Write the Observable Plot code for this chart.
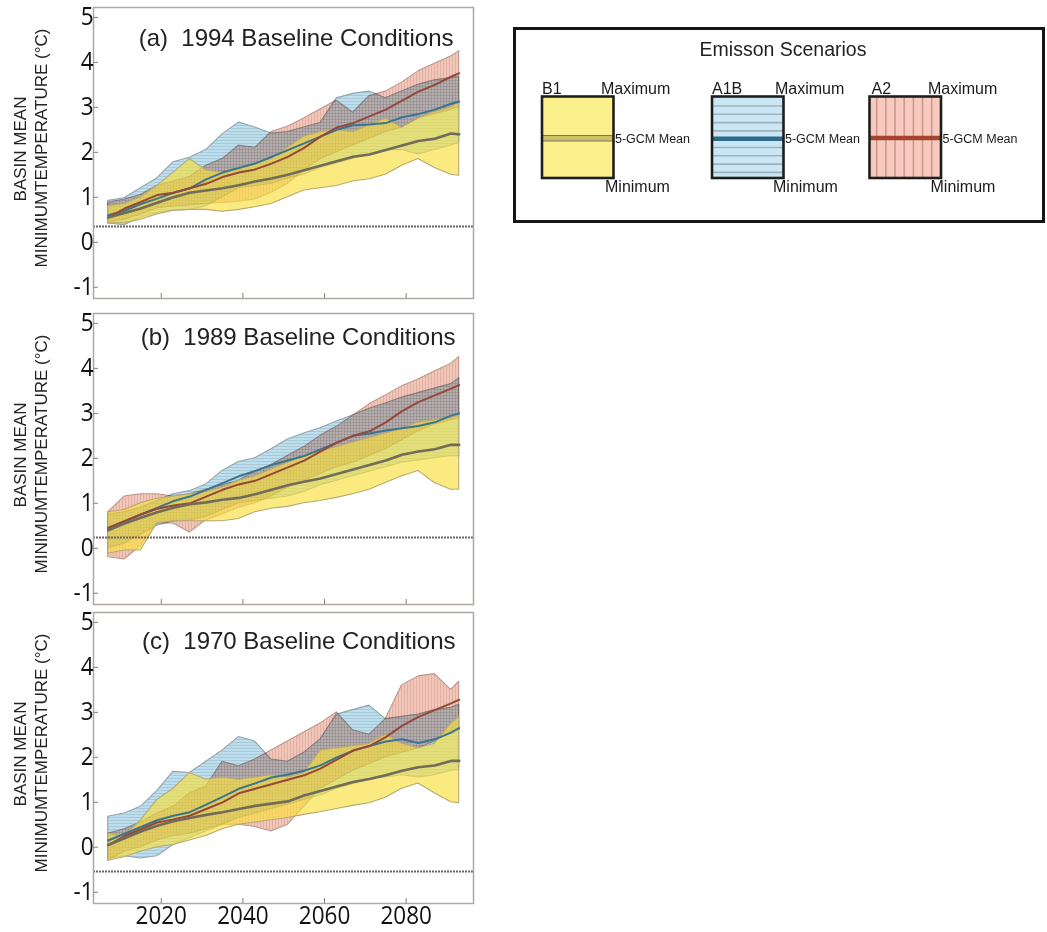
<!DOCTYPE html>
<html><head><meta charset="utf-8">
<script src="https://cdn.jsdelivr.net/npm/d3@7"></script>
<script src="https://cdn.jsdelivr.net/npm/@observablehq/plot@0.6"></script>
<style>
body{margin:0;background:#fff;}
#wrap{position:relative;width:1047px;height:932px;overflow:hidden;background:#fff;}
</style></head><body>
<svg width="0" height="0" style="position:absolute;left:0;top:0">
<defs>
<pattern id="pA1B" patternUnits="userSpaceOnUse" width="6" height="3">
<rect width="6" height="3" fill="#bcdff0"/><rect y="2" width="6" height="1" fill="#aac8d6"/>
</pattern>
<pattern id="pA2" patternUnits="userSpaceOnUse" width="3" height="6">
<rect width="3" height="6" fill="#f3c6ba"/><rect x="2" width="1" height="6" fill="#e0b0a4"/>
</pattern>
</defs></svg>
<div id="wrap"></div>
<script>
// ---------- data ----------
const years = [2007, 2011, 2015, 2019, 2023, 2027, 2031, 2035, 2039, 2043, 2047, 2051, 2055, 2059, 2063, 2067, 2071, 2075, 2079, 2083, 2087, 2091, 2093];
const xTicks = [2020, 2040, 2060, 2080];
const yTicks = [-1, 0, 1, 2, 3, 4, 5];

// (a) 1994 baseline
const baseA = 0.35;
const aB1min   = [0.42, 0.42, 0.5, 0.62, 0.7, 0.72, 0.72, 0.68, 0.72, 0.78, 0.85, 1.0, 1.15, 1.2, 1.25, 1.35, 1.4, 1.5, 1.7, 1.85, 1.65, 1.5, 1.48];
const aB1mean  = [0.55, 0.65, 0.75, 0.88, 1.0, 1.1, 1.15, 1.2, 1.27, 1.35, 1.42, 1.5, 1.6, 1.7, 1.8, 1.9, 1.95, 2.05, 2.15, 2.25, 2.3, 2.42, 2.4];
const aB1max   = [0.8, 0.85, 1.0, 1.25, 1.55, 1.85, 1.6, 1.55, 1.65, 1.75, 1.85, 2.1, 2.35, 2.45, 2.5, 2.45, 2.6, 2.75, 2.55, 2.75, 2.9, 3.0, 3.1];
const aA1Bmin  = [0.42, 0.38, 0.55, 0.65, 0.7, 0.72, 0.8, 1.0, 1.2, 1.25, 1.3, 1.42, 1.5, 1.65, 1.75, 1.85, 1.95, 2.05, 2.05, 1.95, 2.05, 2.15, 2.2];
const aA1Bmean = [0.6, 0.7, 0.85, 0.97, 1.1, 1.2, 1.4, 1.55, 1.65, 1.75, 1.9, 2.05, 2.2, 2.35, 2.5, 2.6, 2.62, 2.65, 2.78, 2.85, 2.95, 3.08, 3.13];
const aA1Bmax  = [0.92, 0.98, 1.2, 1.42, 1.78, 1.88, 2.05, 2.4, 2.66, 2.55, 2.42, 2.45, 2.55, 2.65, 3.2, 3.3, 3.35, 3.2, 3.35, 3.5, 3.6, 3.65, 3.68];
const aA2min   = [0.45, 0.5, 0.62, 0.75, 0.8, 0.82, 0.85, 0.88, 0.9, 0.95, 1.1, 1.3, 1.6, 1.85, 2.0, 2.15, 2.3, 2.45, 2.55, 2.75, 2.85, 2.95, 3.0];
const aA2mean  = [0.55, 0.75, 0.9, 1.05, 1.1, 1.2, 1.3, 1.45, 1.55, 1.62, 1.75, 1.9, 2.1, 2.35, 2.55, 2.65, 2.8, 2.95, 3.15, 3.35, 3.5, 3.68, 3.76];
const aA2max   = [0.88, 0.95, 1.05, 1.25, 1.35, 1.45, 1.7, 1.85, 2.15, 2.1, 2.45, 2.57, 2.75, 2.95, 3.15, 2.88, 3.25, 3.35, 3.55, 3.8, 3.97, 4.13, 4.25];

// (b) 1989 baseline
const baseB = 0.24;
const bB1min   = [-0.12, -0.05, -0.05, 0.55, 0.6, 0.6, 0.6, 0.6, 0.65, 0.8, 0.88, 0.92, 1.0, 1.05, 1.12, 1.2, 1.3, 1.45, 1.6, 1.72, 1.45, 1.3, 1.3];
const bB1mean  = [0.4, 0.55, 0.68, 0.8, 0.9, 0.98, 1.02, 1.08, 1.12, 1.2, 1.3, 1.4, 1.48, 1.55, 1.65, 1.75, 1.85, 1.95, 2.08, 2.15, 2.2, 2.3, 2.3];
const bB1max   = [0.8, 0.85, 1.0, 1.1, 1.15, 1.2, 1.25, 1.35, 1.5, 1.6, 1.75, 1.9, 2.05, 2.15, 2.25, 2.35, 2.45, 2.55, 2.65, 2.8, 2.85, 2.9, 2.95];
const bA1Bmin  = [0.0, 0.1, 0.3, 0.5, 0.6, 0.62, 0.7, 0.85, 1.0, 1.05, 1.1, 1.15, 1.25, 1.4, 1.5, 1.6, 1.7, 1.8, 1.9, 1.95, 2.0, 2.05, 2.05];
const bA1Bmean = [0.45, 0.6, 0.75, 0.9, 1.05, 1.15, 1.3, 1.45, 1.6, 1.72, 1.85, 1.95, 2.05, 2.2, 2.35, 2.5, 2.55, 2.62, 2.67, 2.72, 2.8, 2.95, 3.0];
const bA1Bmax  = [0.75, 0.8, 0.9, 1.05, 1.2, 1.27, 1.42, 1.72, 1.92, 2.0, 2.2, 2.42, 2.55, 2.67, 2.82, 2.95, 3.1, 3.22, 3.35, 3.45, 3.55, 3.65, 3.78];
const bA2min   = [-0.2, -0.25, 0.05, 0.55, 0.55, 0.35, 0.62, 0.75, 0.9, 1.0, 1.15, 1.35, 1.5, 1.65, 1.8, 1.9, 2.05, 2.2, 2.4, 2.6, 2.75, 2.85, 2.9];
const bA2mean  = [0.45, 0.6, 0.75, 0.88, 0.95, 1.0, 1.15, 1.3, 1.42, 1.5, 1.65, 1.8, 1.95, 2.15, 2.35, 2.5, 2.6, 2.8, 3.05, 3.25, 3.4, 3.55, 3.63];
const bA2max   = [0.8, 1.15, 1.2, 1.2, 1.15, 1.2, 1.3, 1.4, 1.5, 1.7, 1.85, 2.05, 2.25, 2.5, 2.7, 2.95, 3.2, 3.4, 3.6, 3.75, 3.93, 4.1, 4.25];

// (c) 1970 baseline
const baseC = -0.54;
const cB1min   = [-0.3, -0.22, -0.1, 0.0, 0.05, 0.15, 0.25, 0.4, 0.5, 0.55, 0.6, 0.65, 0.72, 0.78, 0.85, 0.92, 0.98, 1.1, 1.3, 1.42, 1.2, 1.0, 0.98];
const cB1mean  = [0.05, 0.2, 0.35, 0.48, 0.58, 0.65, 0.72, 0.78, 0.85, 0.92, 0.97, 1.02, 1.15, 1.25, 1.35, 1.45, 1.52, 1.6, 1.7, 1.78, 1.82, 1.92, 1.92];
const cB1max   = [0.3, 0.25, 0.6, 1.05, 1.3, 1.65, 1.5, 1.55, 1.5, 1.55, 1.6, 1.55, 1.65, 2.15, 2.2, 2.25, 2.3, 2.5, 2.3, 2.2, 2.3, 2.75, 2.9];
const cA1Bmin  = [-0.25, -0.2, -0.25, -0.2, 0.05, 0.2, 0.35, 0.5, 0.65, 0.75, 0.85, 0.95, 1.05, 1.15, 1.3, 1.4, 1.5, 1.55, 1.6, 1.55, 1.6, 1.7, 1.72];
const cA1Bmean = [0.15, 0.3, 0.45, 0.6, 0.7, 0.78, 0.95, 1.12, 1.3, 1.42, 1.55, 1.62, 1.7, 1.82, 2.0, 2.15, 2.25, 2.35, 2.4, 2.32, 2.4, 2.55, 2.65];
const cA1Bmax  = [0.68, 0.75, 0.9, 1.25, 1.68, 1.65, 1.9, 2.15, 2.45, 2.35, 1.95, 1.9, 2.1, 2.4, 2.95, 3.05, 3.15, 2.85, 2.9, 2.95, 3.05, 3.1, 3.17];
const cA2min   = [-0.3, -0.1, 0.0, 0.15, 0.25, 0.3, 0.4, 0.5, 0.5, 0.45, 0.35, 0.5, 0.9, 1.3, 1.5, 1.7, 1.85, 2.0, 2.1, 2.2, 2.35, 2.55, 2.65];
const cA2mean  = [0.05, 0.25, 0.4, 0.55, 0.62, 0.7, 0.85, 1.0, 1.2, 1.3, 1.4, 1.5, 1.6, 1.75, 1.95, 2.15, 2.25, 2.45, 2.7, 2.9, 3.05, 3.2, 3.28];
const cA2max   = [0.3, 0.4, 0.55, 0.75, 0.9, 1.2, 1.35, 1.9, 1.8, 1.95, 2.15, 2.35, 2.55, 2.75, 3.0, 2.6, 2.5, 2.85, 3.6, 3.8, 3.85, 3.5, 3.68];

const titles = ["(a)\u00a0 1994 Baseline Conditions", "(b)\u00a0 1989 Baseline Conditions", "(c)\u00a0 1970 Baseline Conditions"];
const yLabel1 = "BASIN MEAN";
const yLabel2 = "MINIMUMTEMPERATURE (°C)";

const legendTitle = "Emisson Scenarios";
const legendScen = ["B1", "A1B", "A2"];
const legendMax = "Maximum", legendMean = "5-GCM Mean", legendMin = "Minimum";

// ---------- panels ----------
const wrap = document.getElementById("wrap");
const LAB = "'Liberation Sans', Arial, sans-serif";

function rowsFor(B1, A1B, A2) {
  return years.map((year, i) => ({
    year,
    B1min: B1[0][i], B1mean: B1[1][i], B1max: B1[2][i],
    A1Bmin: A1B[0][i], A1Bmean: A1B[1][i], A1Bmax: A1B[2][i],
    A2min: A2[0][i], A2mean: A2[1][i], A2max: A2[2][i]
  }));
}

const panels = [
  {top: 0, height: 300, mb: 2, title: titles[0], tdy: 21, tdx: -20, base: baseA, showX: false,
   rows: rowsFor([aB1min, aB1mean, aB1max], [aA1Bmin, aA1Bmean, aA1Bmax], [aA2min, aA2mean, aA2max])},
  {top: 306, height: 300, mb: 2, title: titles[1], tdy: 14, tdx: -18, base: baseB, showX: false,
   rows: rowsFor([bB1min, bB1mean, bB1max], [bA1Bmin, bA1Bmean, bA1Bmax], [bA2min, bA2mean, bA2max])},
  {top: 605, height: 327, mb: 29, title: titles[2], tdy: 19, tdx: -18, base: baseC, showX: true,
   rows: rowsFor([cB1min, cB1mean, cB1max], [cA1Bmin, cA1Bmean, cA1Bmax], [cA2min, cA2mean, cA2max])}
];

for (const p of panels) {
  const svg = Plot.plot({
    width: 480, height: p.height,
    marginLeft: 93, marginRight: 7, marginTop: 7, marginBottom: p.mb,
    style: {fontFamily: "'Open Sans', sans-serif", fontSize: "25px", color: "#111", background: "transparent", overflow: "visible"},
    x: {domain: [2003.4, 2096.5], axis: null, label: null},
    y: {domain: [-1.25, 5.22], axis: null, label: null},
    marks: [
      Plot.areaY(p.rows, {x: "year", y1: "A1Bmin", y2: "A1Bmax", fill: "url(#pA1B)", stroke: "#94a4ac", strokeWidth: 1.1, mixBlendMode: "multiply"}),
      Plot.areaY(p.rows, {x: "year", y1: "A2min", y2: "A2max", fill: "url(#pA2)", stroke: "#bc988c", strokeWidth: 1.1, mixBlendMode: "multiply"}),
      Plot.areaY(p.rows, {x: "year", y1: "B1min", y2: "B1max", fill: "#f7df3c", fillOpacity: 0.66, stroke: "#b8a878", strokeWidth: 1.1}),
      Plot.lineY(p.rows, {x: "year", y: "A1Bmean", stroke: "#3a7590", strokeWidth: 2}),
      Plot.lineY(p.rows, {x: "year", y: "A2mean", stroke: "#96473a", strokeWidth: 2}),
      Plot.lineY(p.rows, {x: "year", y: "B1mean", stroke: "#716c5a", strokeWidth: 2.6}),
      Plot.ruleY([p.base], {stroke: "#6c6462", strokeWidth: 2, strokeDasharray: "2 1"}),
      Plot.frame({stroke: "#b0a6a2", strokeWidth: 1.5}),
      Plot.axisY(yTicks, {tickSize: -5, tickPadding: 5, fontSize: 25, label: null, stroke: "#8a807c", fill: "#111",
        tickFormat: (d) => String(d)}),
      Plot.axisX(xTicks, {tickSize: -5, tickPadding: 8, fontSize: 25, label: null, stroke: "#8a807c", fill: "#111",
        tickFormat: p.showX ? (d) => String(d) : () => ""}),
      Plot.text([p.title], {text: (d) => d, frameAnchor: "top-right", textAnchor: "end", lineAnchor: "top",
        dx: p.tdx, dy: p.tdy, fontSize: 24, fontFamily: LAB, fill: "#222"}),
      Plot.text([yLabel1], {text: (d) => d, frameAnchor: "left", rotate: -90, textAnchor: "middle", lineAnchor: "middle",
        dx: -73, dy: -4, fontSize: 17, fontFamily: LAB, fill: "#222"}),
      Plot.text([yLabel2], {text: (d) => d, frameAnchor: "left", rotate: -90, textAnchor: "middle", lineAnchor: "middle",
        dx: -52, dy: -5, fontSize: 17, fontFamily: LAB, fill: "#222"})
    ]
  });
  svg.style.position = "absolute";
  svg.style.left = "0px";
  svg.style.top = p.top + "px";
  // narrow the tick-label glyphs a little (the original uses a condensed face)
  svg.querySelectorAll('g[aria-label="y-axis tick label"] text, g[aria-label="x-axis tick label"] text').forEach((t) => {
    const tr = t.getAttribute("transform");
    if (tr) t.setAttribute("transform", `${tr} scale(0.9,1)`);
  });
  wrap.appendChild(svg);
}

// ---------- legend ----------
const OX = 505, OY = 20;
const leg = d3.select(wrap).append("svg")
  .attr("width", 542).attr("height", 212)
  .style("position", "absolute").style("left", OX + "px").style("top", OY + "px")
  .style("font-family", LAB);

leg.append("rect").attr("x", 514.5 - OX).attr("y", 28.5 - OY).attr("width", 529).attr("height", 193)
  .attr("fill", "none").attr("stroke", "#151515").attr("stroke-width", 3);
leg.append("text").attr("x", 783 - OX).attr("y", 56 - OY).attr("text-anchor", "middle")
  .attr("font-size", 19.5).attr("fill", "#222").text(legendTitle);

const boxX = [542, 712, 869.5];
const boxFill = ["#fcf08d", "#cbe6f4", "#f7cbbf"];
const maxDx = [59, 63, 58.5];
const minDx = [63, 61, 61];
const scenDx = [0, 0, 2];
const bw = 71.5, by = 96.5, bh = 81.5;

legendScen.forEach((name, k) => {
  const x0 = boxX[k] - OX, y0 = by - OY;
  const g = leg.append("g");
  g.append("rect").attr("x", x0).attr("y", y0).attr("width", bw).attr("height", bh).attr("fill", boxFill[k]);
  if (k === 1) {
    d3.range(106, 176, 8.3).forEach((yy) => {
      g.append("line").attr("x1", x0).attr("x2", x0 + bw).attr("y1", yy - OY).attr("y2", yy - OY)
        .attr("stroke", "#9fb3bd").attr("stroke-width", 1.6);
    });
    g.append("line").attr("x1", x0).attr("x2", x0 + bw).attr("y1", 138.8 - OY).attr("y2", 138.8 - OY)
      .attr("stroke", "#2f6a88").attr("stroke-width", 4.5);
  } else if (k === 2) {
    d3.range(876.7, 940, 9.17).forEach((xx) => {
      g.append("line").attr("x1", xx - OX).attr("x2", xx - OX).attr("y1", y0).attr("y2", y0 + bh)
        .attr("stroke", "#d3968a").attr("stroke-width", 1.6);
    });
    g.append("line").attr("x1", x0).attr("x2", x0 + bw).attr("y1", 138 - OY).attr("y2", 138 - OY)
      .attr("stroke", "#a5452f").attr("stroke-width", 4.5);
  } else {
    g.append("rect").attr("x", x0).attr("y", 135.5 - OY).attr("width", bw).attr("height", 5.5)
      .attr("fill", "#cdbf68").attr("stroke", "#7a7460").attr("stroke-width", 1);
  }
  g.append("rect").attr("x", x0).attr("y", y0).attr("width", bw).attr("height", bh)
    .attr("fill", "none").attr("stroke", "#1e1e1e").attr("stroke-width", 2.6);
  g.append("text").attr("x", x0 + scenDx[k]).attr("y", 94 - OY).attr("font-size", 16).attr("fill", "#1a1a1a").text(name);
  g.append("text").attr("x", x0 + maxDx[k]).attr("y", 94 - OY).attr("font-size", 16).attr("fill", "#1a1a1a").text(legendMax);
  g.append("text").attr("x", x0 + bw + 1.5).attr("y", 139 - OY).attr("dy", "0.35em").attr("font-size", 12.5).attr("fill", "#1a1a1a").text(legendMean);
  g.append("text").attr("x", x0 + minDx[k]).attr("y", 191.7 - OY).attr("font-size", 16).attr("fill", "#1a1a1a").text(legendMin);
});
</script>
</body></html>
